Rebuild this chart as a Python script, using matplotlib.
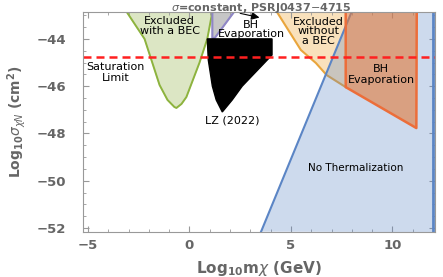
import numpy as np
import matplotlib
matplotlib.use("Agg")
import matplotlib.pyplot as plt
from matplotlib.ticker import MultipleLocator

plt.rcParams['font.family'] = ['DejaVu Sans']

# Region boundaries (x = log10 m_chi [GeV], y = log10 sigma [cm^2])
green_x = [-3.09, -2.21, -1.47, -1.08, -0.74, -0.64, -0.39, -0.15, 0.49, 0.88, 1.13]
green_y = [-42.86, -44.0, -45.95, -46.58, -46.88, -46.92, -46.75, -46.46, -45.02, -44.0, -42.86]

purple_x = [1.13, 1.13, 1.25, 2.2]
purple_y = [-42.86, -43.96, -43.96, -42.86]

lz_x = [0.88, 4.07, 4.07, 2.6, 2.11, 1.62, 1.32, 1.13, 0.93]
lz_y = [-44.0, -44.0, -44.68, -46.0, -46.58, -47.09, -46.58, -46.0, -44.89]

orange_x = [4.31, 5.49, 6.23, 6.76, 7.70]
orange_y = [-42.86, -44.47, -45.02, -45.53, -46.04]

bh_x = [7.70, 7.70, 11.18, 11.2]
bh_y = [-42.86, -46.04, -47.77, -42.86]

therm_x = [3.53, 7.99]
therm_y = [-52.15, -42.86]
therm_right = 12.0

saturation = -44.75

fig = plt.figure(figsize=(4.43, 2.77), dpi=100)
ax = fig.add_axes([0.187, 0.162, 0.795, 0.795])
ax.set_xlim(-5.25, 12.1)
ax.set_ylim(-52.17, -42.86)

# green: excluded with a BEC
ax.fill(green_x, green_y, color='#dce6c4', zorder=1)
ax.plot(green_x, green_y, color='#8db33e', lw=1.4, zorder=2)

# purple / gray BH evaporation sliver
ax.fill(purple_x, purple_y, color='#c6c6c6', zorder=1)
ax.plot(purple_x, purple_y, color='#8f86c6', lw=1.5, zorder=2)

# LZ (2022)
ax.fill(lz_x, lz_y, color='black', zorder=3)

# orange: excluded without a BEC
ox = orange_x + [orange_x[-1]]
oy = orange_y + [-42.86]
ax.fill(ox, oy, color='#f5c47a', alpha=0.5, lw=0, zorder=1)
ax.plot(orange_x, orange_y, color='#e9a53c', lw=1.5, zorder=2)

# blue: no thermalization
tx = [therm_x[0], therm_x[1], therm_right, therm_right]
ty = [therm_y[0], therm_y[1], -42.86, -52.17]
ax.fill(tx, ty, color='#5b85c5', alpha=0.3, lw=0, zorder=4)
ax.plot(therm_x, therm_y, color='#5b85c5', lw=1.5, zorder=5)
ax.plot([therm_right, therm_right], [-52.17, -42.86], color='#5b85c5', lw=2, zorder=5)

# red-orange: BH evaporation
ax.fill(bh_x, bh_y, color='#e27a3a', alpha=0.6, lw=0, zorder=6)
ax.plot(bh_x, bh_y, color='#ec6e3a', lw=1.8, zorder=7, solid_joinstyle='round')

# saturation limit
ax.axhline(saturation, color='#ff2020', lw=1.8, ls=(0, (3.2, 2)), zorder=8)

ax.annotate('', xy=(3.45, -43.1), xytext=(2.5, -42.92),
            arrowprops=dict(arrowstyle='-|>', color='black', lw=0.8, mutation_scale=12,
                            shrinkA=0, shrinkB=0),
            zorder=9)

fs = 8
ax.text(-0.98, -43.45, 'Excluded\nwith a BEC', ha='center', va='center', fontsize=fs,
        linespacing=1.0, zorder=10)
ax.text(3.05, -43.6, 'BH\nEvaporation', ha='center', va='center', fontsize=fs,
        linespacing=0.95, zorder=10)
ax.text(6.35, -43.68, 'Excluded\nwithout\na BEC', ha='center', va='center', fontsize=fs,
        linespacing=0.95, zorder=10)
ax.text(-3.63, -45.42, 'Saturation\nLimit', ha='center', va='center', fontsize=fs,
        linespacing=1.2, zorder=10)
ax.text(9.45, -45.5, 'BH\nEvaporation', ha='center', va='center', fontsize=fs,
        linespacing=1.2, zorder=10)
ax.text(2.1, -47.43, 'LZ (2022)', ha='center', va='center', fontsize=fs, zorder=10)
ax.text(8.19, -49.47, 'No Thermalization', ha='center', va='center', fontsize=fs - 0.5,
        zorder=10)

gray = '#666666'
fig.text(0.59, 0.997, r'$\sigma$=constant, PSRJ0437$-$4715', fontsize=8, fontweight='bold',
         color=gray, ha='center', va='top')
ax.set_xlabel(r'Log$_{\mathbf{10}}$m$\chi$ (GeV)', fontsize=11, fontweight='bold', color=gray,
              labelpad=5)
ax.set_ylabel(r'Log$_{\mathbf{10}}\sigma_{\chi N}$ (cm$^{\mathbf{2}}$)', fontsize=10,
              fontweight='bold', color=gray, labelpad=6)

ax.xaxis.set_major_locator(MultipleLocator(5))
ax.xaxis.set_minor_locator(MultipleLocator(1))
ax.yaxis.set_major_locator(MultipleLocator(2))
ax.yaxis.set_minor_locator(MultipleLocator(0.5))
ax.tick_params(which='both', direction='in', top=True, right=True, color='#999999')
ax.tick_params(which='major', length=4, labelsize=9.5, labelcolor=gray)
ax.tick_params(which='minor', length=2)
ax.tick_params(axis='y', which='major', pad=12)
ax.tick_params(axis='x', which='major', pad=5)
for lab in ax.get_xticklabels() + ax.get_yticklabels():
    lab.set_fontweight('bold')
for s in ax.spines.values():
    s.set_color('#999999')
    s.set_linewidth(0.8)
    s.set_zorder(11)

fig.savefig('out.png', dpi=100)
